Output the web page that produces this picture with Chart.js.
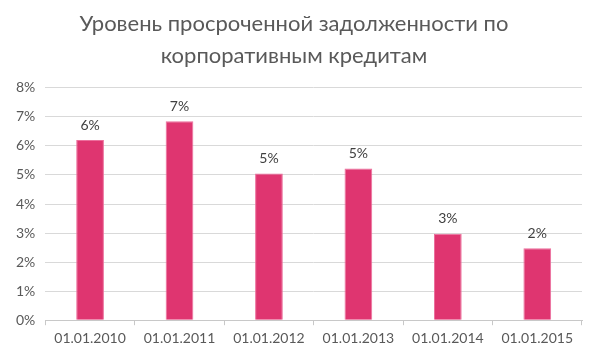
<!DOCTYPE html>
<html>
<head>
<meta charset="utf-8">
<script src="https://cdn.jsdelivr.net/npm/chart.js@4/dist/chart.umd.min.js"></script>
<style>
  html, body { margin: 0; padding: 0; background: #fff; }
  #wrap { width: 600px; height: 360px; }
</style>
</head>
<body>
<div id="wrap"><canvas id="chart"></canvas></div>
<script>
const titleLines = ["Уровень просроченной задолженности по", "корпоративным кредитам"];
const dates = ["01.01.2010", "01.01.2011", "01.01.2012", "01.01.2013", "01.01.2014", "01.01.2015"];
const overdueShare = [6.2, 6.85, 5.05, 5.22, 2.98, 2.48];
const yMax = 8;
const yStep = 1;

const FONT = "Lato, 'Open Sans', 'Liberation Sans', sans-serif";
const TEXT = "#595959";

// draws the rounded value above each bar
const valueLabels = {
  id: "valueLabels",
  afterDatasetsDraw(chart) {
    const { ctx } = chart;
    const meta = chart.getDatasetMeta(0);
    ctx.save();
    ctx.font = "14px " + FONT;
    ctx.fillStyle = "#404040";
    ctx.textAlign = "center";
    ctx.textBaseline = "bottom";
    meta.data.forEach((bar, i) => {
      ctx.fillText(Math.round(overdueShare[i]) + "%", bar.x, bar.y - 8);
    });
    ctx.restore();
  }
};

new Chart(document.getElementById("chart"), {
  type: "bar",
  data: {
    labels: dates,
    datasets: [{
      data: overdueShare,
      backgroundColor: "#DF3570",
      borderColor: "#EC6E9C",
      borderWidth: 1,
      barPercentage: 0.31,
      categoryPercentage: 1
    }]
  },
  options: {
    responsive: true,
    maintainAspectRatio: false,
    animation: false,
    layout: { padding: { left: 6, right: 18, top: 4, bottom: 8 } },
    plugins: {
      legend: { display: false },
      tooltip: { enabled: false },
      title: {
        display: true,
        text: titleLines,
        color: TEXT,
        font: { family: FONT, size: 22, weight: "normal", lineHeight: 1.45 },
        padding: { top: 4, bottom: 16 }
      }
    },
    scales: {
      x: {
        grid: { offset: true, drawOnChartArea: false, drawTicks: true, tickLength: 5, color: "#c8c8c8" },
        border: { display: true, color: "#c8c8c8" },
        ticks: { color: TEXT, font: { family: FONT, size: 14 }, padding: 5, maxRotation: 0 }
      },
      y: {
        min: 0,
        max: yMax,
        grid: { color: "#d9d9d9", drawTicks: false },
        border: { display: false },
        ticks: {
          stepSize: yStep,
          color: TEXT,
          font: { family: FONT, size: 14 },
          padding: 10,
          callback: v => v + "%"
        }
      }
    }
  },
  plugins: [valueLabels]
});
</script>
</body>
</html>
